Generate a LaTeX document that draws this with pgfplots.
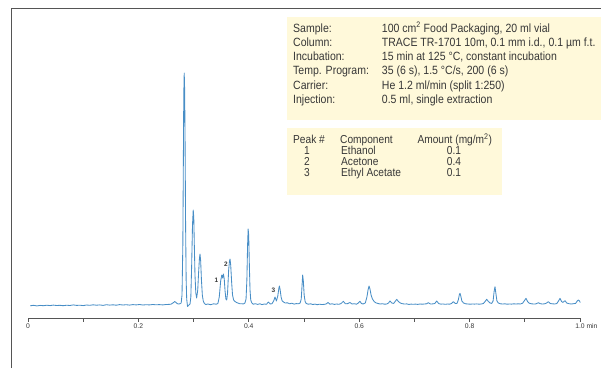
\documentclass[border=0pt]{standalone}
\usepackage{fontspec}
\setmainfont{Liberation Sans}
\newfontfamily\cond[FakeStretch=0.88]{Liberation Sans}
\usepackage{pgfplots}
\pgfplotsset{compat=1.18}
\definecolor{boxfill}{RGB}{255,249,218}
\definecolor{trace}{RGB}{72,142,198}
\definecolor{frame}{RGB}{85,85,85}
\definecolor{txt}{RGB}{55,55,55}
\begin{document}
\begin{tikzpicture}[x=1bp,y=1bp]
\useasboundingbox (0,0) rectangle (601,368);
% frame (top and left)
\draw[frame, line width=1.3bp] (11.7,0) -- (11.7,359.3) -- (601,359.3);
% info boxes
\fill[boxfill] (287,351.3) rectangle (601,248);
\fill[boxfill] (287,239.7) rectangle (502,173);
\begin{scope}[every node/.style={anchor=base west, inner sep=0pt, text=txt, font=\cond\fontsize{12}{14}\selectfont}]
\node at (293,335.7) {Sample:};
\node at (293,321.5) {Column:};
\node at (293,307.3) {Incubation:};
\node at (293,293.1) {Temp. Program:};
\node at (293,278.9) {Carrier:};
\node at (293,264.7) {Injection:};
\node at (381.7,335.7) {100 cm\textsuperscript{2} Food Packaging, 20 ml vial};
\node at (381.7,321.5) {TRACE TR-1701 10m, 0.1 mm i.d., 0.1 µm f.t.};
\node at (381.7,307.3) {15 min at 125 °C, constant incubation};
\node at (381.7,293.1) {35 (6 s), 1.5 °C/s, 200 (6 s)};
\node at (381.7,278.9) {He 1.2 ml/min (split 1:250)};
\node at (381.7,264.7) {0.5 ml, single extraction};
\end{scope}
\begin{scope}[every node/.style={anchor=base west, inner sep=0pt, text=txt, text height=8.4bp, text depth=1.4bp, font=\cond\fontsize{11.6}{13}\selectfont}]
\node at (293,224.3) {Peak \#};
\node at (340,224.3) {Component};
\node at (417.3,224.3) {Amount (mg/m\textsuperscript{2})};
\node at (341,213.5) {Ethanol};
\node at (341,202.7) {Acetone};
\node at (341,191.9) {Ethyl Acetate};
\end{scope}
\begin{scope}[every node/.style={anchor=base, inner sep=0pt, text=txt, text height=8.4bp, text depth=1.4bp, font=\cond\fontsize{11.6}{13}\selectfont}]
\node at (307,213.5) {1};
\node at (307,202.7) {2};
\node at (307,191.9) {3};
\node at (454,213.5) {0.1};
\node at (454,202.7) {0.4};
\node at (454,191.9) {0.1};
\end{scope}
\begin{axis}[
  at={(28bp,50bp)}, anchor=south west,
  scale only axis, width=552bp, height=253bp,
  xmin=0, xmax=1, ymin=-13, ymax=240,
  clip=false,
  hide y axis,
  axis x line=bottom,
  x axis line style={-, draw=frame, line width=0.9bp},
  xtick={0,0.1,0.2,0.3,0.4,0.5,0.6,0.7,0.8,0.9,1.0},
  xticklabels={0,,0.2,,0.4,,0.6,,0.8,,1.0\rlap{ min}},
  tick align=outside,
  major tick length=3.5bp,
  tick style={draw=frame, line width=0.8bp},
  /pgf/number format/assume math mode=true,
  ticklabel style={font=\fontsize{6.8}{7}\selectfont, text=txt, inner sep=2pt},
]
\addplot[trace, line width=0.85bp, line join=round] coordinates {
(0.004,-0.8)(0.010,-0.3)(0.016,-0.9)(0.022,-0.4)(0.028,-0.7)(0.034,-0.2)(0.040,-0.6)(0.046,-0.1)(0.052,-0.5)(0.058,-0.3)
(0.064,-0.7)(0.070,-0.2)(0.076,-0.5)(0.082,0.1)(0.088,-0.4)(0.094,-0.2)(0.100,-0.6)(0.106,0.0)(0.112,-0.3)(0.118,0.2)
(0.124,-0.2)(0.130,0.1)(0.136,-0.4)(0.142,0.3)(0.148,-0.1)(0.154,0.2)(0.160,-0.2)(0.166,0.4)(0.172,0.0)(0.178,0.3)
(0.184,-0.1)(0.190,0.4)(0.196,0.1)(0.202,0.5)(0.208,0.0)(0.214,0.3)(0.220,0.1)(0.226,0.5)(0.232,0.2)(0.238,0.4)
(0.244,0.1)(0.250,0.5)(0.255,0.6)(0.259,0.8)(0.263,2.2)(0.266,3.5)(0.269,2.0)(0.272,1.0)(0.275,1.2)
(0.2775,2)(0.2790,10)(0.2805,60)(0.2815,150)(0.2822,210)(0.2830,232)(0.2838,215)(0.2846,160)(0.2855,80)(0.2865,25)
(0.2875,6)(0.2890,-1.5)(0.2905,-0.5)
(0.2935,1)(0.2950,8)(0.2965,40)(0.2980,80)(0.2993,95)(0.3003,88)(0.3013,60)(0.3025,30)(0.3040,12)(0.3055,7)
(0.3075,15)(0.3090,32)(0.3105,46)(0.3116,51)(0.3128,44)(0.3142,25)(0.3158,10)(0.3175,4)(0.3195,1.5)(0.3220,0.5)
(0.326,1.0)(0.331,0.3)(0.336,1.2)(0.341,0.8)
(0.3440,1.5)(0.3465,8)(0.3490,24)(0.3510,30)(0.3525,27)(0.3540,31)(0.3555,26)(0.3570,14)(0.3585,6)(0.3600,5)
(0.3615,12)(0.3635,35)(0.3650,44)(0.3660,46)(0.3672,40)(0.3690,22)(0.3705,10)(0.3725,5)(0.3750,3.5)(0.3780,2.5)
(0.3810,1.8)(0.3840,1.2)(0.3870,1.3)(0.3900,1.0)(0.3930,2.0)
(0.3950,6)(0.3965,25)(0.3978,60)(0.3988,76)(0.3998,70)(0.4010,40)(0.4022,15)(0.4035,5)(0.4055,2)(0.4080,0.8)
(0.412,1.3)(0.416,0.6)(0.420,1.2)(0.424,0.4)(0.428,1.0)(0.432,0.7)(0.4355,3)(0.439,1.0)(0.442,1.3)(0.445,4)
(0.4475,8)(0.4500,4)(0.4525,9)(0.4545,17)(0.4555,19)(0.4568,15)(0.4585,8)(0.4605,4)(0.463,3)(0.466,2)
(0.470,2.2)(0.474,1.2)(0.478,1.8)(0.482,0.9)(0.486,1.4)(0.490,1.2)(0.493,2)
(0.4950,6)(0.4965,20)(0.4976,30)(0.4988,24)(0.5003,10)(0.5020,3.5)(0.504,1.5)(0.508,0.8)(0.512,1.2)(0.516,0.5)
(0.520,0.9)(0.524,0.3)(0.528,0.8)(0.532,0.5)
(0.536,0.6)(0.540,1.0)(0.5435,2.5)(0.547,0.8)(0.551,1.2)(0.555,0.6)(0.559,1.0)(0.563,0.7)(0.567,1.4)(0.5712,3.7)
(0.575,1.2)(0.579,1.4)(0.5833,2.5)(0.587,1.0)(0.591,1.3)(0.595,0.8)(0.598,1.8)(0.6014,3.7)(0.604,1.5)(0.607,1.0)
(0.6110,2)(0.6140,8)(0.6160,15)(0.6178,19)(0.6195,16)(0.6215,10)(0.6240,6)(0.6270,3.5)(0.6300,2.2)(0.6340,1.5)
(0.638,1.0)(0.642,1.3)(0.646,0.8)(0.650,1.0)
(0.6530,2)(0.6558,4)(0.6590,2)(0.6625,1.6)(0.6650,3.5)(0.6680,5.7)(0.6710,3.5)(0.6745,2)(0.678,1.3)(0.682,1.0)
(0.686,1.1)(0.690,0.6)(0.694,0.9)(0.698,0.7)(0.702,0.9)(0.706,0.6)(0.710,1.0)(0.714,0.8)
(0.718,1.0)(0.722,1.2)(0.7252,2.3)(0.729,1.0)(0.733,1.1)(0.737,1.5)(0.7404,4)(0.744,1.4)(0.748,0.9)(0.752,1.0)
(0.756,0.7)(0.760,1.0)(0.764,0.8)(0.767,1.5)(0.7705,3.3)(0.774,1.6)(0.7770,1.5)(0.7795,5)(0.7815,10.5)(0.7826,11.7)
(0.7840,9)(0.7860,4)(0.7890,2)(0.793,1.2)(0.797,1.0)(0.801,0.8)(0.805,1.0)(0.809,0.9)(0.813,1.1)(0.817,0.8)
(0.821,1.0)(0.825,1.5)(0.8280,3.5)(0.8310,5.7)(0.8340,3.5)(0.837,2.0)(0.840,1.6)(0.8425,4)(0.8445,14)(0.8460,18.3)
(0.8475,12)(0.8495,4)(0.8520,2)(0.856,1.2)(0.860,1.0)(0.864,1.2)(0.868,0.8)(0.872,1.0)(0.876,0.9)(0.880,1.2)
(0.884,1.0)(0.888,1.2)(0.892,1.0)(0.896,1.8)(0.8995,4.5)(0.9022,6.7)(0.9050,3.5)(0.908,1.8)(0.912,1.2)(0.916,1.0)
(0.920,1.1)(0.9245,2.3)(0.928,1.3)(0.932,1.0)(0.936,1.2)(0.9395,2.0)(0.9426,3.3)(0.946,1.5)(0.950,1.2)(0.954,1.0)
(0.958,1.5)(0.9610,4)(0.9638,6.7)(0.9665,3.5)(0.9690,2.6)(0.9728,4.3)(0.9760,2.0)(0.980,1.3)(0.984,1.0)(0.988,1.3)
(0.992,1.6)(0.9950,4)(0.9970,5)(0.9990,4)(1.0005,2.5)
};
\node[font=\bfseries\fontsize{6.5}{7}\selectfont, text=txt, inner sep=0pt] at (axis cs:0.3415,25) {1};
\node[font=\bfseries\fontsize{6.5}{7}\selectfont, text=txt, inner sep=0pt] at (axis cs:0.3587,41) {2};
\node[font=\bfseries\fontsize{6.5}{7}\selectfont, text=txt, inner sep=0pt] at (axis cs:0.4447,15) {3};
\end{axis}
\end{tikzpicture}
\end{document}
